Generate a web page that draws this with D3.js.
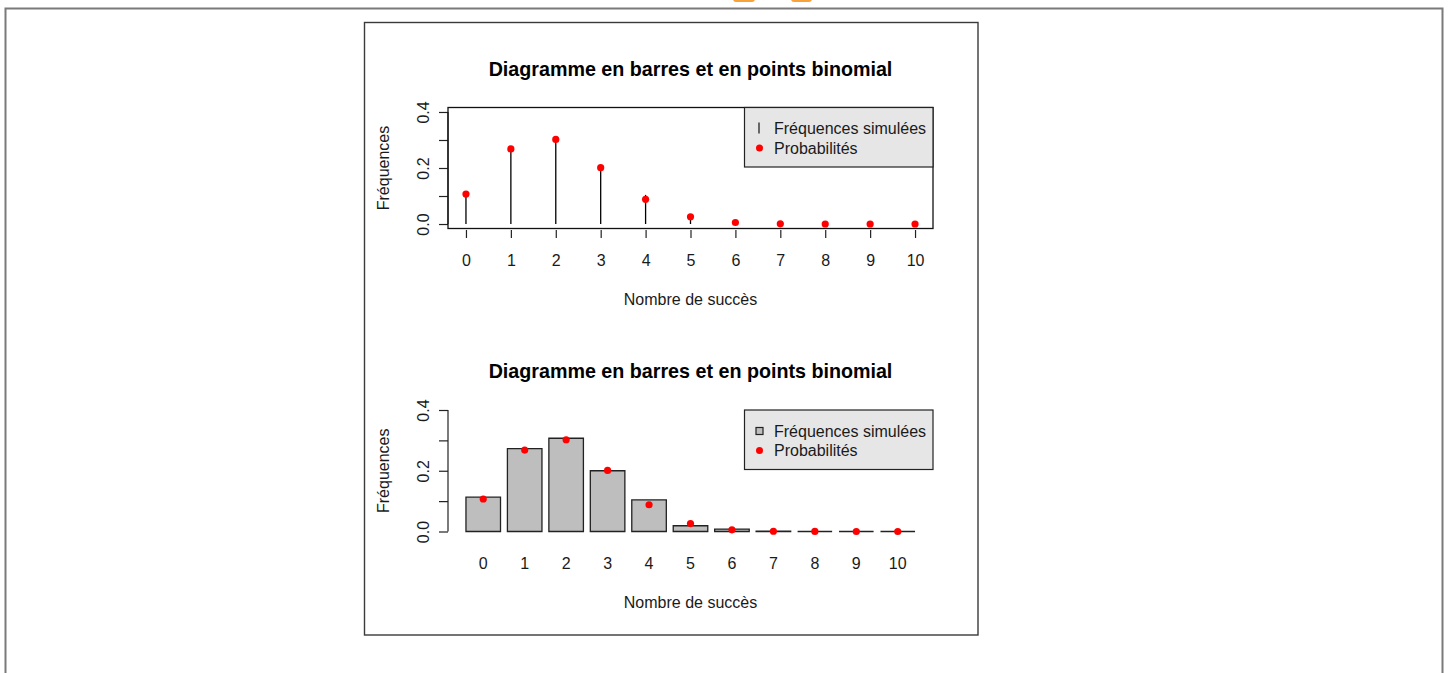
<!DOCTYPE html>
<html>
<head>
<meta charset="utf-8">
<script src="https://cdn.jsdelivr.net/npm/d3@7/dist/d3.min.js"></script>
<style>
  html, body { margin: 0; padding: 0; background: #fff; }
  svg { display: block; font-family: "Liberation Sans", Arial, sans-serif; }
</style>
</head>
<body>
<svg id="chart" width="1449" height="673"></svg>
<script>
// ---- data ----
const categories = ["0", "1", "2", "3", "4", "5", "6", "7", "8", "9", "10"];
const successes = [0, 1, 2, 3, 4, 5, 6, 7, 8, 9, 10];
const simulated = [0.113, 0.273, 0.307, 0.200, 0.104, 0.019, 0.008, 0.001, 0.000, 0.000, 0.000];
const probabilities = [0.107, 0.268, 0.302, 0.201, 0.088, 0.026, 0.0055, 0.0008, 0.0001, 0.0000, 0.0000];
const yTicks = [0, 0.1, 0.2, 0.3, 0.4];
const yTickLabels = ["0.0", "", "0.2", "", "0.4"];
const titleText = "Diagramme en barres et en points binomial";
const xTitle = "Nombre de succès";
const yTitle = "Fréquences";
const legendLabels = ["Fréquences simulées", "Probabilités"];

const svg = d3.select("#chart");
const TXT = "#1a1a1a";

// decorative frame
svg.append("rect").attr("x", 733).attr("y", -8).attr("width", 22).attr("height", 10).attr("rx", 3).attr("fill", "#f7a23b");
svg.append("rect").attr("x", 791).attr("y", -8).attr("width", 21).attr("height", 10).attr("rx", 3).attr("fill", "#f7a23b");
svg.append("path").attr("d", "M5.5,680 V8.5 H1442.5 V680").attr("fill", "none").attr("stroke", "#7a7a7a").attr("stroke-width", 2);
svg.append("rect").attr("x", 364.5).attr("y", 22.5).attr("width", 613.5).attr("height", 612.5)
  .attr("fill", "#fff").attr("stroke", "#3a3a3a").attr("stroke-width", 1.4);

const plotL = 448, plotR = 933;
const FS = 16;

function drawYAxis(g, y) {
  const ax = d3.axisLeft(y).tickValues(yTicks).tickSize(9)
    .tickFormat((d, i) => yTickLabels[i]);
  const a = g.append("g").attr("transform", `translate(${plotL},0)`).call(ax);
  a.select(".domain").attr("d", `M0,${y(0)}V${y(0.4)}`).attr("stroke", "#222").attr("stroke-width", 1.2);
  a.selectAll(".tick line").attr("stroke", "#222").attr("stroke-width", 1.2);
  a.selectAll(".tick text")
    .attr("x", null).attr("dy", null)
    .attr("transform", "translate(-25,0) rotate(-90)")
    .attr("text-anchor", "middle").attr("dominant-baseline", "central")
    .attr("font-size", FS).attr("fill", TXT).attr("font-family", "Liberation Sans, Arial, sans-serif");
}

function drawTexts(g, top, bottom, xTitleY) {
  g.append("text").attr("x", (plotL + plotR) / 2).attr("y", top - 39)
    .attr("text-anchor", "middle").attr("dominant-baseline", "central")
    .attr("font-size", 19.7).attr("font-weight", "bold").attr("fill", "#000").text(titleText);
  g.append("text").attr("x", (plotL + plotR) / 2).attr("y", xTitleY)
    .attr("text-anchor", "middle").attr("dominant-baseline", "central")
    .attr("font-size", FS).attr("fill", TXT).text(xTitle);
  g.append("text").attr("transform", `translate(383,${(top + bottom) / 2}) rotate(-90)`)
    .attr("text-anchor", "middle").attr("dominant-baseline", "central")
    .attr("font-size", FS).attr("fill", TXT).text(yTitle);
}

function drawLegend(g, top, symbol) {
  const lx = 744.5, lw = plotR - lx, lh = 59.5;
  g.append("rect").attr("x", lx).attr("y", top).attr("width", lw).attr("height", lh)
    .attr("fill", "#e6e6e6").attr("stroke", "#222").attr("stroke-width", 1.2);
  const y1 = top + 21, y2 = top + 40.5;
  if (symbol === "line") {
    g.append("line").attr("x1", 759).attr("x2", 759).attr("y1", y1 - 6).attr("y2", y1 + 5)
      .attr("stroke", "#222").attr("stroke-width", 1.3);
  } else {
    g.append("rect").attr("x", 756).attr("y", y1 - 3.5).attr("width", 7).attr("height", 7)
      .attr("fill", "#bebebe").attr("stroke", "#222").attr("stroke-width", 1.2);
  }
  g.append("circle").attr("cx", 759.5).attr("cy", y2).attr("r", 3.5).attr("fill", "#ff0000");
  g.append("text").attr("x", 774).attr("y", y1).attr("dominant-baseline", "central")
    .attr("font-size", FS).attr("fill", TXT).text(legendLabels[0]);
  g.append("text").attr("x", 774).attr("y", y2).attr("dominant-baseline", "central")
    .attr("font-size", FS).attr("fill", TXT).text(legendLabels[1]);
}

// ---------- top chart: stems + points ----------
{
  const top = 107.5, bottom = 228.5;
  const g = svg.append("g");
  const x = d3.scaleLinear().domain([-0.4, 10.4]).range([plotL, plotR]);
  const y = d3.scaleLinear().domain([-0.016, 0.416]).range([bottom, top]);

  drawTexts(g, top, bottom, 299);

  const xa = d3.axisBottom(x).tickValues(successes).tickSize(8).tickFormat((d, i) => categories[i]);
  const a = g.append("g").attr("transform", `translate(0,${bottom + 1.5})`).call(xa);
  a.select(".domain").remove();
  a.selectAll(".tick line").attr("stroke", "#222").attr("stroke-width", 1.2);
  a.selectAll(".tick text").attr("y", 30).attr("dy", null).attr("dominant-baseline", "central")
    .attr("font-size", FS).attr("fill", TXT).attr("font-family", "Liberation Sans, Arial, sans-serif");

  drawYAxis(g, y);

  g.selectAll(".stem").data(simulated).join("line")
    .attr("x1", (d, i) => x(successes[i])).attr("x2", (d, i) => x(successes[i]))
    .attr("y1", y(0)).attr("y2", d => y(d))
    .attr("stroke", "#000").attr("stroke-width", 1.3);
  g.selectAll(".pt").data(probabilities).join("circle")
    .attr("cx", (d, i) => x(successes[i])).attr("cy", d => y(d)).attr("r", 3.6).attr("fill", "#ff0000");

  g.append("rect").attr("x", plotL).attr("y", top).attr("width", plotR - plotL).attr("height", bottom - top)
    .attr("fill", "none").attr("stroke", "#111").attr("stroke-width", 1.3);

  drawLegend(g, top, "line");
}

// ---------- bottom chart: bars + points ----------
{
  const top = 410, bottom = 531.5;
  const g = svg.append("g");
  const x = d3.scaleBand().domain(categories).range([plotL, plotR]).paddingInner(1 / 6).paddingOuter(0.4333);
  const y = d3.scaleLinear().domain([0, 0.4]).range([bottom, top]);

  drawTexts(g, top, bottom, 602);
  drawYAxis(g, y);

  // bars as closed paths so zero-height bars still show their outline
  g.selectAll(".bar").data(simulated).join("path")
    .attr("d", (d, i) => {
      const x0 = x(categories[i]), x1 = x0 + x.bandwidth(), y0 = y(0), y1 = y(d);
      return `M${x0},${y0}H${x1}V${y1}H${x0}Z`;
    })
    .attr("fill", "#bebebe").attr("stroke", "#222").attr("stroke-width", 1.3);

  g.selectAll(".lab").data(categories).join("text")
    .attr("x", d => x(d) + x.bandwidth() / 2).attr("y", 563)
    .attr("text-anchor", "middle").attr("dominant-baseline", "central")
    .attr("font-size", FS).attr("fill", TXT).text(d => d);

  g.selectAll(".pt").data(probabilities).join("circle")
    .attr("cx", (d, i) => x(categories[i]) + x.bandwidth() / 2).attr("cy", d => y(d)).attr("r", 3.6).attr("fill", "#ff0000");

  drawLegend(g, top, "square");
}
</script>
</body>
</html>
